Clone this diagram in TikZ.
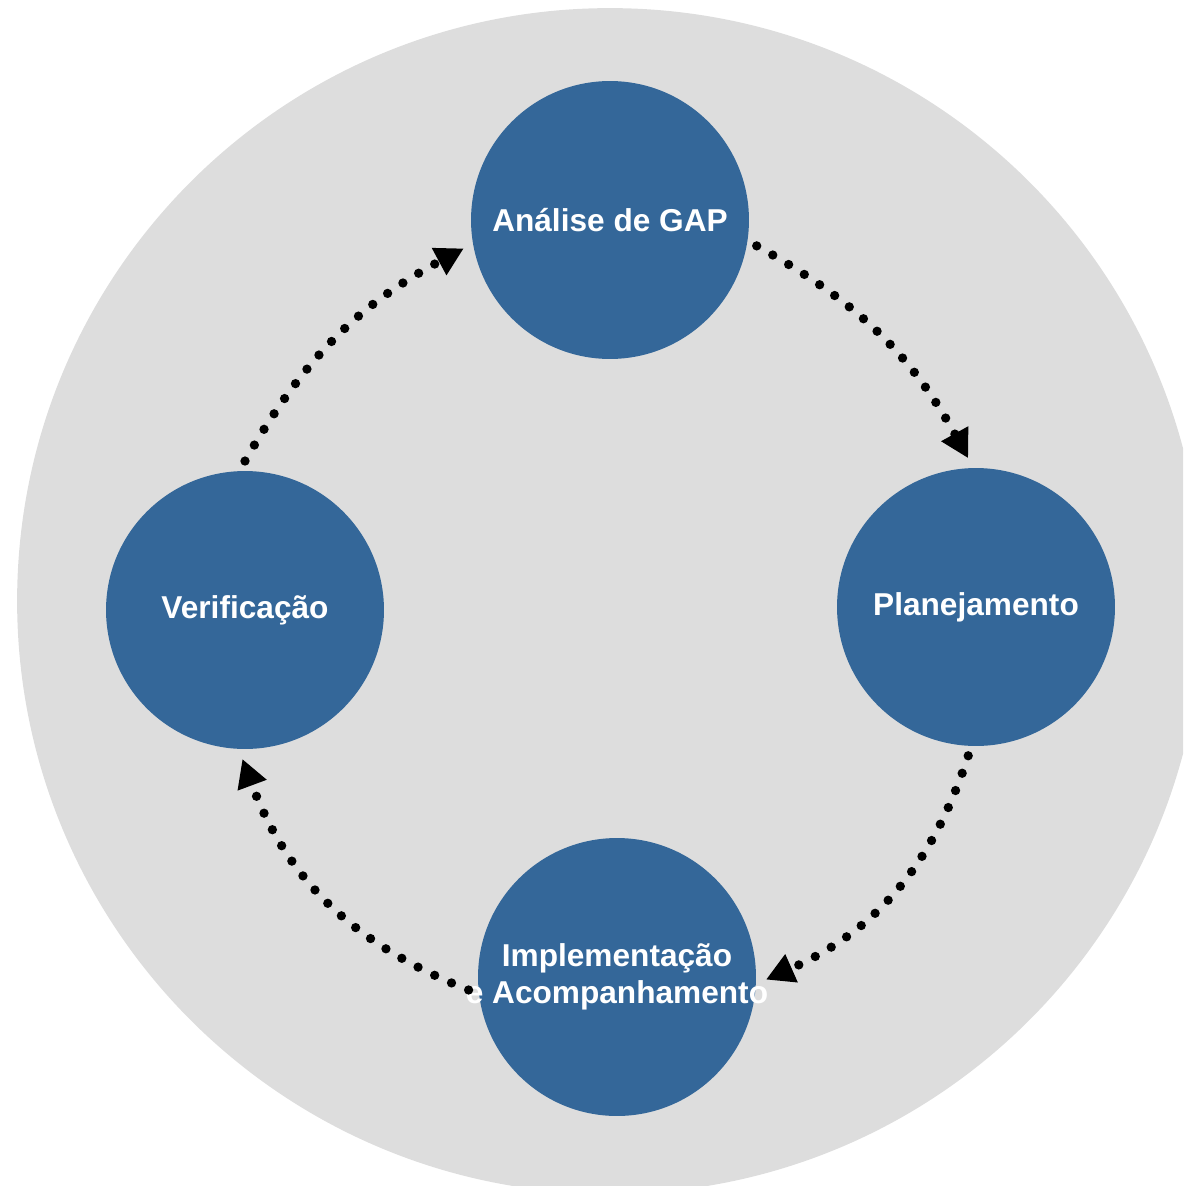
\documentclass[tikz,border=0pt]{standalone}
\usepackage{fontspec}
\setmainfont{Liberation Sans}
\usetikzlibrary{arrows.meta}
\definecolor{ringgray}{RGB}{221,221,221}
\definecolor{stageblue}{RGB}{52,103,153}
\begin{document}
\begin{tikzpicture}[x=0.02cm,y=0.02cm,
  stage/.style={circle, fill=stageblue, minimum size=5.56cm, inner sep=0pt,
    outer sep=0.2cm, text=white, align=center,
    font=\fontsize{18pt}{20.8pt}\selectfont\bfseries},
  flow/.style={line width=5.3pt, line cap=round,
    dash pattern=on 0pt off 0.37cm,
    -{Triangle[length=0.56cm,width=0.58cm]}}
]
\useasboundingbox (0,0) rectangle (1183,-1186);
\clip (0,0) rectangle (1183,-1186);
% background disc
\fill[ringgray] (610,-601) circle[radius=11.86cm];
% the four stages of the cycle
\node[stage] (gap)   at (610,-220) {Análise de GAP};
\node[stage] (plan)  at (976,-607) {Planejamento};
% the two lines may run past the disc, so they get zero width
\node[stage] (impl)  at (617,-977)
  {\makebox[0pt]{Implementação}\\\makebox[0pt]{e Acompanhamento}};
\node[stage] (verif) at (245,-610) {Verificação};
% dotted arrows running clockwise
\draw[flow] (gap.-10)  to[bend left=16] (plan.93);
\draw[flow] (plan.-93) to[bend left=24] (impl.-1);
\draw[flow] (impl.185) to[bend left=24] (verif.-91);
\draw[flow] (verif.90) to[bend left=16] (gap.191);
\end{tikzpicture}
\end{document}
